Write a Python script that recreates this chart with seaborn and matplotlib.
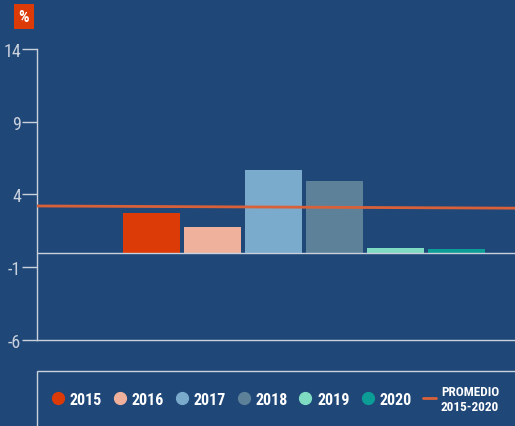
import numpy as np
import pandas as pd
import matplotlib
matplotlib.use("Agg")
import matplotlib.pyplot as plt
from matplotlib.lines import Line2D
from matplotlib.patches import Rectangle
import seaborn as sns

# datos
years = ["2015", "2016", "2017", "2018", "2019", "2020"]
values = [2.75, 1.75, 5.65, 4.95, 0.28, 0.22]
bar_colors = ["#dc3a06", "#f0b19c", "#7aabcd", "#5d8199", "#7fdcc2", "#0c9d96"]
avg_start, avg_end = 3.2, 3.05
avg_label = "PROMEDIO\n2015-2020"
yticks = [-6, -1, 4, 9, 14]

bg = "#1f4778"
grid_col = "#c9d1dd"
txt_col = "#c9d1dd"

sns.set_style("dark")
plt.rcParams["font.family"] = ["Roboto Condensed", "DejaVu Sans"]

fig = plt.figure(figsize=(5.15, 4.27), dpi=100, facecolor=bg)
ax = fig.add_axes([0.0718, 0.202, 0.9282, 0.681])
ax.set_facecolor(bg)

df = pd.DataFrame({"year": years, "value": values})
sns.barplot(data=df, x="year", y="value", hue="year", palette=bar_colors,
            width=0.93, saturation=1, legend=False, ax=ax, edgecolor="none")

xlim = (-1.877, 5.96)
ax.set_xlim(*xlim)
ax.set_ylim(-6, 14)

# linea de promedio
ax.plot(xlim, [avg_start, avg_end], color="#d9613a", lw=2.0, zorder=5,
        solid_capstyle="butt")
ax.axhline(0, color=grid_col, lw=1.0, zorder=4)

ax.set_xticks([])
ax.set_xlabel("")
ax.set_ylabel("")
ax.set_yticks(yticks)
ax.set_yticklabels([str(t) for t in yticks], color=txt_col, fontsize=13)
ax.tick_params(axis="y", length=10.5, width=1, color=grid_col, pad=1, left=True)
for s in ["top", "right"]:
    ax.spines[s].set_visible(False)
for s in ["left", "bottom"]:
    ax.spines[s].set_visible(True)
    ax.spines[s].set_color(grid_col)
    ax.spines[s].set_linewidth(1.0)
ax.grid(False)

# etiqueta "%"
fig.text(24 / 515, 1 - 17 / 427, "%", color="white", fontsize=12, fontweight="bold",
         ha="center", va="center",
         bbox=dict(boxstyle="square,pad=0.3", fc="#dc3a06", ec="none"))

# caja de leyenda
fig.patches.append(Rectangle((37 / 515, -0.1), 1.0, (427 - 372) / 427 + 0.1,
                             transform=fig.transFigure, fill=False,
                             ec=grid_col, lw=1.0))

handles = [Line2D([], [], marker="o", ls="none", color=c, markersize=8.5)
           for c in bar_colors]
handles.append(Line2D([], [], color="#d9613a", lw=2.0))
leg = fig.legend(handles, years + [avg_label], ncol=7, frameon=False,
                 loc="center left", bbox_to_anchor=(37 / 515, 1 - 400 / 427),
                 handlelength=0.85, handletextpad=0.3, columnspacing=0.7,
                 prop={"weight": "bold", "size": 11.5})
for t in leg.get_texts():
    t.set_color("white")
leg.get_texts()[-1].set_fontsize(9.5)
leg.get_texts()[-1].set_ha("center")

fig.savefig("out.png", dpi=100, facecolor=bg)
